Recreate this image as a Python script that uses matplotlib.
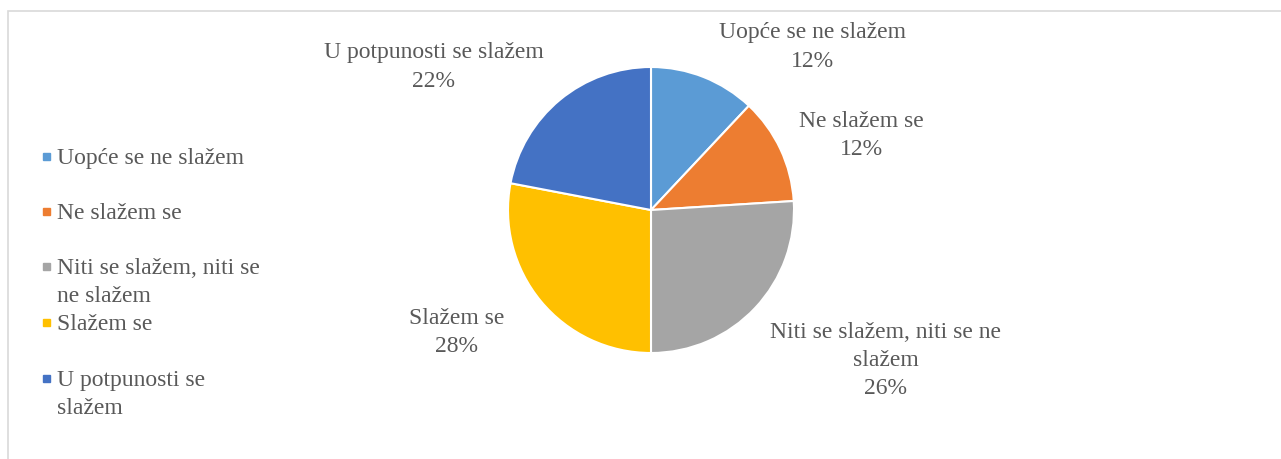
import matplotlib.pyplot as plt
from matplotlib.patches import Rectangle

# data
categories = ['Uopće se ne slažem', 'Ne slažem se', 'Niti se slažem, niti se ne slažem',
              'Slažem se', 'U potpunosti se slažem']
values = [12, 12, 26, 28, 22]
colors = ['#5B9BD5', '#ED7D31', '#A5A5A5', '#FFC000', '#4472C4']

# label text (as wrapped in the chart) and where they sit, in pie radii
label_text = ['Uopće se ne slažem', 'Ne slažem se', 'Niti se slažem, niti se ne\nslažem',
              'Slažem se', 'U potpunosti se slažem']
label_pos = [(1.13, 1.14), (1.47, 0.52), (1.64, -1.05), (-1.36, -0.86), (-1.52, 1.00)]
legend_text = ['Uopće se ne slažem', 'Ne slažem se', 'Niti se slažem, niti se\nne slažem',
               'Slažem se', 'U potpunosti se\nslažem']
legend_y = [157, 212, 267, 323, 379]   # pixel rows of first line

W, H = 1281, 459
txt_color = '#595959'
plt.rcParams['font.family'] = ['Liberation Serif', 'DejaVu Serif']
fs = 17
ls = 1.44

fig = plt.figure(figsize=(W / 100, H / 100), dpi=100)

# chart border
fig.patches.append(Rectangle((8 / W, -0.1), 1.2, 1 - 11 / H + 0.1, transform=fig.transFigure,
                             fill=False, edgecolor='#D9D9D9', linewidth=1.2))

# pie axes spanning the figure, 1 data unit = radius
cx, cy, r = 651, 210, 143
ax = fig.add_axes([0, 0, 1, 1])

ax.pie(values, colors=colors, startangle=90, counterclock=False, radius=1,
       wedgeprops=dict(edgecolor='white', linewidth=1.5))
ax.set_aspect('auto')
ax.set_xlim(-cx / r, (W - cx) / r)
ax.set_ylim(-(H - cy) / r, cy / r)
ax.axis('off')

for t, v, (x, y) in zip(label_text, values, label_pos):
    ax.text(x, y, f'{t}\n{v}%', ha='center', va='center', fontsize=fs,
            color=txt_color, linespacing=ls)

# legend drawn by hand
for t, c, y in zip(legend_text, colors, legend_y):
    fig.patches.append(Rectangle((43 / W, 1 - (y + 3) / H), 7 / W, 7 / H,
                                 transform=fig.transFigure, color=c))
    fig.text(57 / W, 1 - (y - 9) / H, t, ha='left', va='top', fontsize=fs,
             color=txt_color, linespacing=ls)

plt.savefig('out.png', dpi=100)
